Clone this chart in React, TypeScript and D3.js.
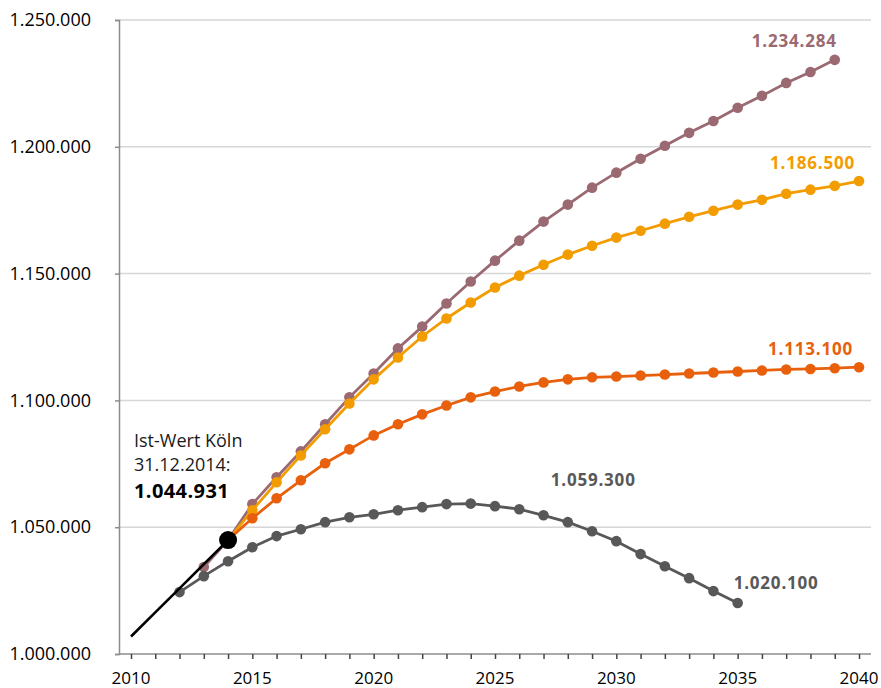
import * as React from 'react';
import { useEffect, useRef } from 'react';
import * as d3 from 'd3';

// Ist-Werte (black line)
const istYears = [2010, 2011, 2012, 2013, 2014];
const istValues = [1006900, 1016400, 1025900, 1035400, 1044931];

// Prognose "hoch" (mauve), starts 2013
const hochYears = d3.range(2013, 2040);
const hochValues = [
    1034300, 1044931, 1059100, 1069700, 1079900, 1090600, 1101200, 1110600, 1120500, 1129100,
    1138200, 1146900, 1155100, 1163000, 1170500, 1177200, 1183900, 1189800, 1195300, 1200400,
    1205500, 1210200, 1215400, 1220100, 1225200, 1229500, 1234284,
];

// Prognose (yellow-orange), 2014 - 2040
const mittelYears = d3.range(2014, 2041);
const mittelValues = [
    1044931, 1056700, 1067700, 1078300, 1088600, 1098800, 1108300, 1116900, 1125200, 1132300,
    1138600, 1144500, 1149200, 1153500, 1157500, 1161000, 1164200, 1166900, 1169700, 1172400,
    1174800, 1177200, 1179100, 1181500, 1183100, 1184600, 1186500,
];

// Prognose (dark orange), 2014 - 2040
const niedrigYears = d3.range(2014, 2041);
const niedrigValues = [
    1044931, 1053500, 1061400, 1068500, 1075200, 1080700, 1086200, 1090600, 1094500, 1098000,
    1101200, 1103500, 1105500, 1107100, 1108300, 1109100, 1109400, 1109800, 1110200, 1110600,
    1111000, 1111400, 1111800, 1112200, 1112400, 1112700, 1113100,
];

// Prognose (gray), 2012 - 2035
const altYears = d3.range(2012, 2036);
const altValues = [
    1024400, 1030700, 1036600, 1042100, 1046500, 1049200, 1052000, 1053900, 1055100, 1056700,
    1057900, 1059100, 1059300, 1058300, 1057100, 1054700, 1052000, 1048400, 1044500, 1039400,
    1034600, 1029900, 1024800, 1020100,
];

const yTicks = [1000000, 1050000, 1100000, 1150000, 1200000, 1250000];
const xTicks = [2010, 2015, 2020, 2025, 2030, 2035, 2040];

const fmt = (v: number) => d3.format(',')(v).replace(/,/g, '.');

export default function App() {
    const svgRef = useRef<SVGSVGElement>(null);

    useEffect(() => {
        if (!svgRef.current) return;
        const width = 881;
        const height = 688;
        const font = '"Open Sans", sans-serif';

        const svg = d3.select(svgRef.current);
        svg.selectAll('*').remove();

        const x = d3.scaleLinear().domain([2010, 2040]).range([131, 859]);
        const y = d3.scaleLinear().domain([1000000, 1250000]).range([654, 20]);
        const axisLeft = 119;
        const axisRight = 871;

        // grid lines
        svg.append('g')
            .selectAll('line')
            .data(yTicks.slice(1))
            .enter().append('line')
            .attr('x1', axisLeft)
            .attr('x2', axisRight)
            .attr('y1', d => y(d))
            .attr('y2', d => y(d))
            .attr('stroke', '#d6d6d6')
            .attr('stroke-width', 1.5);

        // y axis
        const yAxis = d3.axisLeft(y).tickValues(yTicks).tickSize(4).tickPadding(24).tickFormat(d => fmt(d as number));
        const gy = svg.append('g')
            .attr('transform', `translate(${axisLeft},0)`)
            .call(yAxis);
        gy.select('.domain').attr('stroke', '#8c8c8c').attr('stroke-width', 1.5);
        gy.selectAll('.tick line').attr('stroke', '#8c8c8c').attr('stroke-width', 1.5);
        gy.selectAll('.tick text')
            .attr('font-size', '18px')
            .attr('font-family', font)
            .attr('fill', '#000');

        // x axis
        const gx = svg.append('g').attr('transform', `translate(0,${y(1000000)})`);
        gx.append('line')
            .attr('x1', axisLeft)
            .attr('x2', axisRight)
            .attr('stroke', '#8c8c8c')
            .attr('stroke-width', 1.5);
        const xAxis = d3.axisBottom(x).tickValues(d3.range(2010, 2041)).tickSize(5).tickFormat(() => '');
        gx.call(xAxis);
        gx.select('.domain').remove();
        gx.selectAll('.tick line').attr('stroke', '#444').attr('stroke-width', 1.5);
        gx.selectAll('.year-label')
            .data(xTicks)
            .enter().append('text')
            .attr('class', 'year-label')
            .attr('x', d => x(d))
            .attr('y', 30)
            .attr('text-anchor', 'middle')
            .attr('font-size', '17px')
            .attr('font-family', font)
            .attr('fill', '#000')
            .text(d => d);

        const series = [
            { years: hochYears, values: hochValues, color: '#9b6971' },
            { years: mittelYears, values: mittelValues, color: '#f39c00' },
            { years: niedrigYears, values: niedrigValues, color: '#e85f0c' },
            { years: altYears, values: altValues, color: '#585858' },
        ];

        const line = d3.line<[number, number]>()
            .x(d => x(d[0]))
            .y(d => y(d[1]));

        series.forEach(s => {
            const pts = s.years.map((yr, i) => [yr, s.values[i]] as [number, number]);
            const g = svg.append('g');
            g.append('path')
                .datum(pts)
                .attr('fill', 'none')
                .attr('stroke', s.color)
                .attr('stroke-width', 2.8)
                .attr('d', line);
            g.selectAll('circle')
                .data(pts)
                .enter().append('circle')
                .attr('cx', d => x(d[0]))
                .attr('cy', d => y(d[1]))
                .attr('r', 5.3)
                .attr('fill', s.color);
        });

        // Ist line
        const istPts = istYears.map((yr, i) => [yr, istValues[i]] as [number, number]);
        svg.append('path')
            .datum(istPts)
            .attr('fill', 'none')
            .attr('stroke', '#000')
            .attr('stroke-width', 2.6)
            .attr('d', line);
        svg.append('circle')
            .attr('cx', x(2014))
            .attr('cy', y(1044931))
            .attr('r', 9)
            .attr('fill', '#000');

        // value labels
        const labels = [
            { year: 2039, value: 1234284, color: '#9b6971', anchor: 'end', dx: 2, dy: -13 },
            { year: 2040, value: 1186500, color: '#f39c00', anchor: 'end', dx: -4, dy: -12 },
            { year: 2040, value: 1113100, color: '#e85f0c', anchor: 'end', dx: -6, dy: -12 },
            { year: 2024, value: 1059300, color: '#585858', anchor: 'start', dx: 80, dy: -18 },
            { year: 2035, value: 1020100, color: '#585858', anchor: 'start', dx: -4, dy: -14 },
        ];
        svg.selectAll('.val-label')
            .data(labels)
            .enter().append('text')
            .attr('class', 'val-label')
            .attr('x', d => x(d.year) + d.dx)
            .attr('y', d => y(d.value) + d.dy)
            .attr('text-anchor', d => d.anchor)
            .attr('font-size', '17px')
            .attr('font-weight', 700)
            .attr('letter-spacing', '0.8px')
            .attr('font-family', font)
            .attr('fill', d => d.color)
            .text(d => fmt(d.value));

        // annotation
        const note = svg.append('text')
            .attr('font-family', font)
            .attr('fill', '#1a1a1a');
        note.append('tspan').attr('x', 134).attr('y', 447).attr('font-size', '18px').text('Ist-Wert Köln');
        note.append('tspan').attr('x', 134).attr('y', 471).attr('font-size', '18px').text('31.12.2014:');
        note.append('tspan').attr('x', 134).attr('y', 498).attr('font-size', '20px').attr('font-weight', 700)
            .attr('letter-spacing', '0.4px').attr('fill', '#000').text(fmt(1044931));

        svg.attr('width', width).attr('height', height);
    }, []);

    return (
        <svg ref={svgRef} width={881} height={688}
            style={{ position: 'absolute', left: 0, top: 0, background: '#fff' }} />
    );
}
